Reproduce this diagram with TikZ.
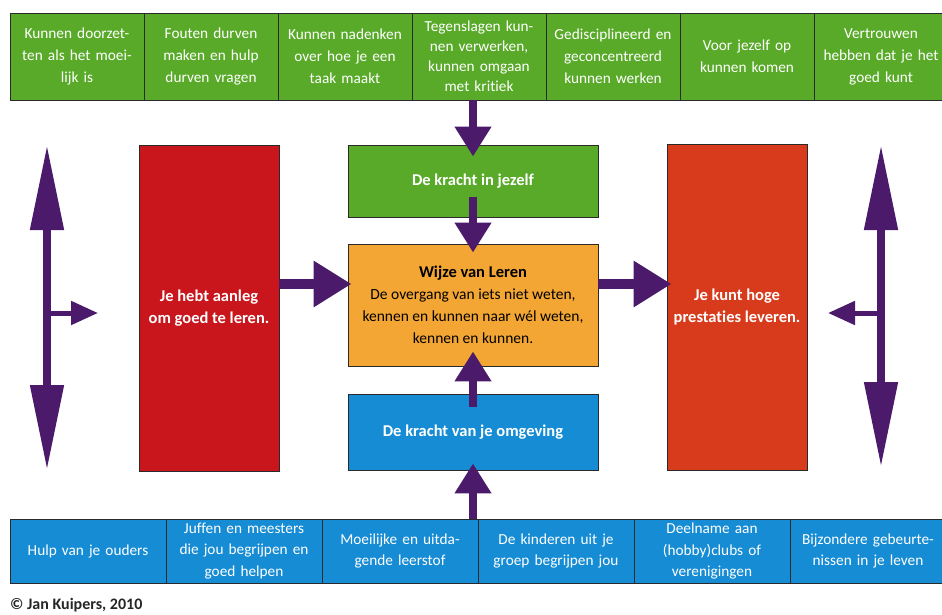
\documentclass[tikz,border=0pt]{standalone}
\usepackage{fontspec}
\setmainfont{Carlito}[Ligatures=NoCommon]
\usetikzlibrary{arrows.meta}
\definecolor{cgreen}{HTML}{58AA28}
\definecolor{cblue}{HTML}{168CD4}
\definecolor{credL}{HTML}{C8161C}
\definecolor{credR}{HTML}{D83A1C}
\definecolor{corange}{HTML}{F3A634}
\definecolor{cpurple}{HTML}{4B1A6A}
\definecolor{cborder}{HTML}{2A2A2A}
\tikzset{
  cell/.style={draw=cborder, line width=0.9pt, inner sep=0pt, align=center, text=white,
    font=\fontsize{15.3}{21.5}\selectfont},
  topcell/.style={cell, fill=cgreen, minimum width=134pt, minimum height=87pt, text width=130pt,
    font=\fontsize{15.3}{22}\selectfont},
  botcell/.style={cell, fill=cblue, minimum width=156pt, minimum height=64pt, text width=150pt},
  bigbox/.style={draw=cborder, line width=0.9pt, inner sep=0pt, align=center,
    font=\bfseries\fontsize{16.5}{22}\selectfont},
  varrow/.style={draw=cpurple, line width=8pt, -{Triangle[length=30pt,width=35pt]}},
  harrow/.style={draw=cpurple, line width=10pt, -{Triangle[length=38pt,width=44pt]}},
  sidearrow/.style={draw=cpurple, line width=8pt, {Triangle[length=85pt,width=32pt]}-{Triangle[length=85pt,width=32pt]}},
  brancharrow/.style={draw=cpurple, line width=5pt, -{Triangle[length=27pt,width=23pt]}},
}
\begin{document}
\begin{tikzpicture}[x=1pt,y=-1pt]
\useasboundingbox[fill=white] (0,0) rectangle (942,615);
\begin{scope}
\clip (0,0) rectangle (942,615);
% top row
\node[topcell] (t1) at (77,56.5) {Kunnen doorzet-\\ten als het moei-\\lijk is};
\node[topcell] (t2) at (211,56.5) {Fouten durven\\maken en hulp\\durven vragen};
\node[topcell] (t3) at (345,56.5) {Kunnen nadenken\\over hoe je een\\taak maakt};
\node[topcell, font=\fontsize{15.3}{20}\selectfont] (t4) at (479,56.5) {Tegenslagen kun-\\nen verwerken,\\kunnen omgaan\\met kritiek};
\node[topcell] (t5) at (613,56.5) {Gedisciplineerd en\\geconcentreerd\\kunnen werken};
\node[topcell] (t6) at (747,56.5) {Voor jezelf op\\kunnen komen};
\node[topcell] (t7) at (881,56.5) {Vertrouwen\\hebben dat je het\\goed kunt};
% bottom row
\node[botcell] (b1) at (88,551) {Hulp van je ouders};
\node[botcell] (b2) at (244,551) {Juffen en meesters\\die jou begrijpen en\\goed helpen};
\node[botcell] (b3) at (400,551) {Moeilijke en uitda-\\gende leerstof};
\node[botcell] (b4) at (556,551) {De kinderen uit je\\groep begrijpen jou};
\node[botcell] (b5) at (712,551) {Deelname aan\\(hobby)clubs of\\verenigingen};
\node[botcell] (b6) at (868,551) {Bijzondere gebeurte-\\nissen in je leven};
\end{scope}
% middle boxes
\node[bigbox, fill=credL, text=white, minimum width=140pt, minimum height=326pt] (aanleg) at (209,308) {Je hebt aanleg\\om goed te leren.};
\node[bigbox, fill=credR, text=white, minimum width=140pt, minimum height=326pt] (prest) at (737,307) {Je kunt hoge\\prestaties leveren.};
\node[bigbox, fill=cgreen, text=white, minimum width=250pt, minimum height=72pt] (kracht) at (473,181) {De kracht in jezelf};
\node[bigbox, fill=corange, text=black, minimum width=250pt, minimum height=122pt] (wijze) at (473,305)
  {Wijze van Leren\\\mdseries\fontsize{15.5}{22}\selectfont De overgang van iets niet weten,\\\mdseries\fontsize{15.5}{22}\selectfont kennen en kunnen naar wél weten,\\\mdseries\fontsize{15.5}{22}\selectfont kennen en kunnen.};
\node[bigbox, fill=cblue, text=white, minimum width=250pt, minimum height=76pt] (omg) at (473,432) {De kracht van je omgeving};
% arrows
\draw[varrow, shorten >=-12pt] (t4.south -| kracht.north) -- (kracht.north);
\draw[varrow, shorten <=-20pt, shorten >=-9pt] (kracht.south) -- (wijze.north);
\draw[varrow, shorten <=-13pt, shorten >=-15pt] (omg.north) -- (wijze.south);
\draw[varrow, shorten >=-7pt] (b3.north -| omg.south) -- (omg.south);
\draw[harrow, shorten >=-4pt] (aanleg.east |- 0,284) -- (wijze.west |- 0,284);
\draw[harrow, shorten >=-5pt] (wijze.east |- 0,284) -- (prest.west |- 0,284);
% side arrows
\coordinate (lt) at (47,145);
\coordinate (lb) at (47,470);
\coordinate (lm) at (47,313);
\coordinate (lr) at (98,313);
\draw[sidearrow] (lt) -- (lb);
\draw[brancharrow] (lm) -- (lr);
\coordinate (rt) at (881,145);
\coordinate (rb) at (881,467);
\coordinate (rm) at (881,313);
\coordinate (rl) at (828,313);
\draw[sidearrow] (rt) -- (rb);
\draw[brancharrow] (rm) -- (rl);
% copyright
\node[anchor=west, inner sep=0pt, text=black!85, font=\bfseries\fontsize{16}{18}\selectfont] (copy) at (10,605) {© Jan Kuipers, 2010};
\end{tikzpicture}
\end{document}
